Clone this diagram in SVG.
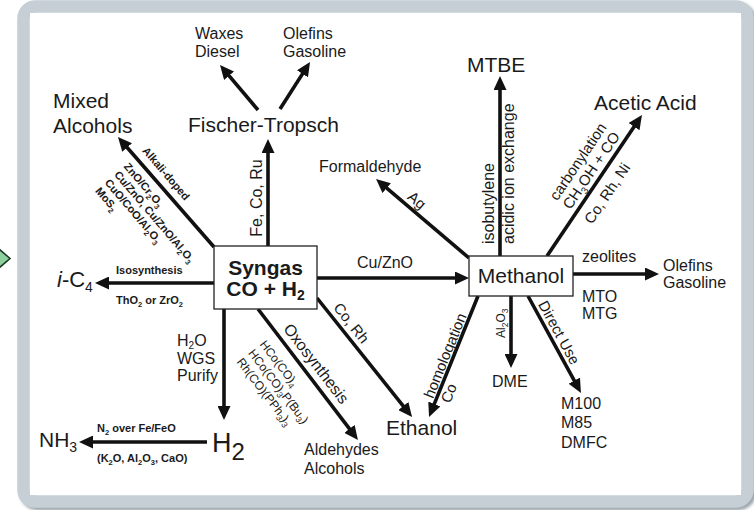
<svg xmlns="http://www.w3.org/2000/svg" width="754" height="510" viewBox="0 0 754 510">
<defs>
  <marker id="ah" markerUnits="userSpaceOnUse" viewBox="0 0 14 13" markerWidth="14" markerHeight="13" refX="8" refY="6.5" orient="auto">
    <path d="M0,0 L14,6.5 L0,13 z" fill="#111"/>
  </marker>
  <filter id="shadow" x="-5%" y="-5%" width="110%" height="110%"><feGaussianBlur stdDeviation="1.8"/></filter>
  <filter id="soft" x="-5%" y="-5%" width="110%" height="110%"><feGaussianBlur stdDeviation="0.7"/></filter>
</defs>
<style>
  text { font-family: "Liberation Sans", Arial, Helvetica, sans-serif; fill: #1a1a1a; }
  .lg { font-size: 21px; }
  .md { font-size: 16px; }
  .dg { font-size: 15px; }
  .sb { font-size: 11px; font-weight: bold; }
  .sm { font-size: 12px; }
  .conn line { stroke: #111; stroke-width: 3.6; marker-end: url(#ah); }
  .box { fill: #fff; stroke: #222; stroke-width: 1.3; }
</style>
<rect width="754" height="510" fill="#fff"/>
<g id="frame">
  <rect x="26" y="9" width="724" height="495" rx="12" fill="none" stroke="#9ea7ad" stroke-width="13" filter="url(#shadow)"/>
  <rect x="23.5" y="6.5" width="724" height="495" rx="12" fill="#fff" stroke="#c6cfd5" stroke-width="12.5" filter="url(#soft)"/>
  <rect x="30" y="13" width="711" height="482" fill="#fff"/>
</g>
<g id="green-pointer">
  <polygon points="-1,249 10,258.5 -1,268" fill="#8fd19e" stroke="#1f3a27" stroke-width="1.6"/>
</g>

<g id="connectors" class="conn">
  <line x1="214" y1="247" x2="121.9" y2="141.5"/>
  <line x1="268" y1="246" x2="268" y2="145"/>
  <line x1="258" y1="110" x2="223.9" y2="69.6"/>
  <line x1="280" y1="109" x2="306.8" y2="67.1"/>
  <line x1="214" y1="283" x2="101" y2="283"/>
  <line x1="224" y1="309" x2="224" y2="414"/>
  <line x1="207" y1="442" x2="85" y2="442"/>
  <line x1="258" y1="309" x2="354.3" y2="435.2"/>
  <line x1="317" y1="298" x2="408.3" y2="412.3"/>
  <line x1="317" y1="278" x2="463" y2="278"/>
  <line x1="469" y1="258" x2="380.6" y2="182.9"/>
  <line x1="500" y1="256" x2="500" y2="82"/>
  <line x1="547" y1="256" x2="638.6" y2="120"/>
  <line x1="573" y1="274" x2="653" y2="274"/>
  <line x1="478" y1="296" x2="431.3" y2="411.4"/>
  <line x1="511" y1="296" x2="511" y2="362"/>
  <line x1="528" y1="296" x2="578.1" y2="387.7"/>
</g>

<g id="syngas">
  <rect class="box" x="214" y="246" width="103" height="63"/>
  <text x="265.5" y="275" text-anchor="middle" font-size="21" font-weight="bold">Syngas</text>
  <text x="265.5" y="296" text-anchor="middle" font-size="21" font-weight="bold">CO + H<tspan font-size="14" dy="4">2</tspan></text>
</g>
<g id="methanol">
  <rect class="box" x="469" y="256" width="104" height="40"/>
  <text class="lg" x="521" y="283" text-anchor="middle">Methanol</text>
</g>
<g id="mixed-alcohols">
  <text class="lg" x="53" y="108">Mixed</text>
  <text class="lg" x="53" y="133">Alcohols</text>
</g>
<g id="fischer-tropsch">
  <text class="lg" x="188" y="132">Fischer-Tropsch</text>
</g>
<g id="waxes-diesel">
  <text class="md" x="195" y="39">Waxes</text>
  <text class="md" x="195" y="57">Diesel</text>
</g>
<g id="olefins-gasoline-ft">
  <text class="md" x="283" y="39">Olefins</text>
  <text class="md" x="283" y="57">Gasoline</text>
</g>
<g id="formaldehyde">
  <text class="md" x="319" y="172">Formaldehyde</text>
</g>
<g id="mtbe">
  <text class="lg" x="467" y="72">MTBE</text>
</g>
<g id="acetic-acid">
  <text class="lg" x="594" y="110">Acetic Acid</text>
</g>
<g id="olefins-gasoline-mto">
  <text class="md" x="663" y="271">Olefins</text>
  <text class="md" x="663" y="288">Gasoline</text>
</g>
<g id="i-c4">
  <text x="57" y="287" font-size="22"><tspan font-style="italic">i</tspan>-C<tspan font-size="14" dy="5">4</tspan></text>
</g>
<g id="h2">
  <text x="212" y="452" font-size="27">H<tspan font-size="24" dy="8">2</tspan></text>
</g>
<g id="nh3">
  <text x="39" y="447" font-size="21">NH<tspan font-size="14" dy="5">3</tspan></text>
</g>
<g id="aldehydes-alcohols">
  <text class="md" x="304" y="455">Aldehydes</text>
  <text class="md" x="304" y="474">Alcohols</text>
</g>
<g id="ethanol">
  <text class="lg" x="386" y="435">Ethanol</text>
</g>
<g id="dme">
  <text class="md" x="492" y="387">DME</text>
</g>
<g id="m100">
  <text class="md" x="561" y="409">M100</text>
  <text class="md" x="561" y="428">M85</text>
  <text class="md" x="561" y="448">DMFC</text>
</g>

<g id="labels">
  <g transform="translate(118,137) rotate(49.4)">
    <text class="sb" x="26" y="-9">Alkali-doped</text>
    <text class="sb" x="26" y="15.5">ZnO/Cr<tspan font-size="7.5" dy="3">2</tspan><tspan dy="-3">O</tspan><tspan font-size="7.5" dy="3">3</tspan></text>
    <text class="sb" x="26" y="28">Cu/ZnO, Cu/ZnO/Al<tspan font-size="7.5" dy="3">2</tspan><tspan dy="-3">O</tspan><tspan font-size="7.5" dy="3">3</tspan></text>
    <text class="sb" x="26" y="40.5">CuO/CoO/Al<tspan font-size="7.5" dy="3">2</tspan><tspan dy="-3">O</tspan><tspan font-size="7.5" dy="3">3</tspan></text>
    <text class="sb" x="26" y="53">MoS<tspan font-size="7.5" dy="3">2</tspan></text>
  </g>
  <text class="md" transform="translate(262,198) rotate(-90)" text-anchor="middle">Fe, Co, Ru</text>
  <text class="sb" x="116" y="274">Isosynthesis</text>
  <text class="sb" x="116" y="304">ThO<tspan font-size="7.5" dy="3">2</tspan><tspan dy="-3"> or ZrO</tspan><tspan font-size="7.5" dy="3">2</tspan></text>
  <text class="md" x="177" y="346">H<tspan font-size="10" dy="3">2</tspan><tspan dy="-3">O</tspan></text>
  <text class="md" x="177" y="364">WGS</text>
  <text class="md" x="177" y="381">Purify</text>
  <text class="sb" x="97" y="432">N<tspan font-size="7.5" dy="3">2</tspan><tspan dy="-3"> over Fe/FeO</tspan></text>
  <text class="sb" x="97" y="462">(K<tspan font-size="7.5" dy="3">2</tspan><tspan dy="-3">O, Al</tspan><tspan font-size="7.5" dy="3">2</tspan><tspan dy="-3">O</tspan><tspan font-size="7.5" dy="3">3</tspan><tspan dy="-3">, CaO)</tspan></text>
  <g transform="translate(258,310) rotate(52.4)">
    <text class="md" x="30" y="-8">Oxosynthesis</text>
    <text class="sm" x="28" y="20">HCo(CO)<tspan font-size="8.5" dy="3">4</tspan></text>
    <text class="sm" x="28" y="34.5">HCo(CO)<tspan font-size="8.5" dy="3">3</tspan><tspan dy="-3">P(Bu</tspan><tspan font-size="8.5" dy="3">3</tspan><tspan dy="-3">)</tspan></text>
    <text class="sm" x="28" y="49">Rh(CO)(PPh<tspan font-size="8.5" dy="3">3</tspan><tspan dy="-3">)</tspan><tspan font-size="8.5" dy="3">3</tspan></text>
  </g>
  <text class="dg" transform="translate(317,298) rotate(51.4)" x="41" y="-6" text-anchor="middle">Co, Rh</text>
  <text class="md" x="357" y="268">Cu/ZnO</text>
  <text class="dg" transform="translate(376,179) rotate(40.3)" x="45" y="-5" text-anchor="middle">Ag</text>
  <text class="md" transform="translate(494,244) rotate(-90)">isobutylene</text>
  <text class="md" transform="translate(514,244) rotate(-90)">acidic ion exchange</text>
  <g transform="translate(547,256) rotate(-56)">
    <text class="dg" x="51" y="-22">carbonylation</text>
    <text class="dg" x="51" y="-6">CH<tspan font-size="10" dy="4">3</tspan><tspan dy="-4">OH + CO</tspan></text>
    <text class="dg" x="51" y="20">Co, Rh, Ni</text>
  </g>
  <text class="md" x="582" y="262">zeolites</text>
  <text class="md" x="582" y="302">MTO</text>
  <text class="md" x="582" y="319">MTG</text>
  <g transform="translate(429,417) rotate(-67.9)">
    <text class="dg" x="18" y="-3">homologation</text>
    <text class="dg" x="20" y="14.5">Co</text>
  </g>
  <text class="sm" transform="translate(505,338) rotate(-90)">Al<tspan font-size="8.5" dy="3">2</tspan><tspan dy="-3">O</tspan><tspan font-size="8.5" dy="3">3</tspan></text>
  <text class="dg" transform="translate(528,296) rotate(61.3)" x="12" y="-4.5">Direct Use</text>
</g>
</svg>
